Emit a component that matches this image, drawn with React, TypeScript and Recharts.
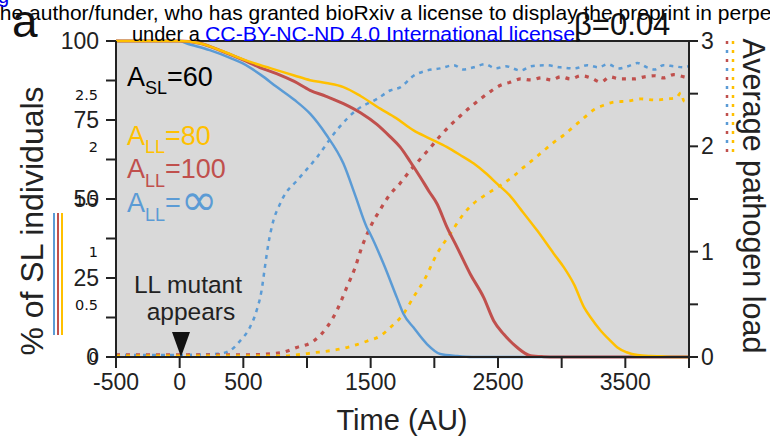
import React from "react";
import { LineChart, Line, XAxis, YAxis, ReferenceArea, ReferenceLine } from "recharts";

// % of SL individuals (left axis), [time, percent]
const slInf = [
  [-500, 100], [0, 100], [52, 99.3], [236, 97.1], [400, 94.6], [496, 92.9], [640, 89.2], [761, 85.5],
  [900, 81.4], [1024, 77], [1150, 70.4], [1286, 61.2], [1380, 51], [1470, 41], [1496, 39],
  [1601, 29.5], [1706, 18.8], [1758, 13.6], [1837, 9.3], [1942, 4.1], [2047, 0.95], [2178, 0.3],
  [2300, 0], [4000, 0],
];
const sl100 = [
  [-500, 100], [0, 100], [157, 99.3], [330, 96.8], [498, 94], [630, 91.6], [761, 89.7], [900, 87.2],
  [1024, 84.4], [1150, 82.5], [1286, 80.2], [1420, 77.3], [1549, 73.6], [1650, 69.8], [1732, 66.4],
  [1811, 61.8], [1890, 56.9], [1960, 52.3], [2021, 48.5], [2100, 41], [2179, 34.7], [2283, 26.2],
  [2388, 18.8], [2467, 11.4], [2546, 7.2], [2651, 3], [2756, 0.4], [2860, 0.1], [2950, 0], [4000, 0],
];
const sl80 = [
  [-500, 100], [0, 100], [157, 99.3], [330, 96.9], [498, 94.2], [630, 92.4], [761, 90.8], [900, 89.1],
  [1024, 87.6], [1150, 86.7], [1286, 85.4], [1420, 82.6], [1575, 78.6], [1700, 75.6], [1837, 71.7],
  [1960, 69.2], [2100, 66.4], [2200, 64], [2310, 61.2], [2400, 58.3], [2494, 54.8], [2590, 51.2],
  [2677, 46.8], [2808, 40], [2938, 32.7], [3020, 28.2], [3097, 23], [3176, 15.7], [3228, 12.5],
  [3307, 8.3], [3386, 5], [3438, 3], [3510, 1.5], [3596, 0.6], [3700, 0.3], [3780, 0.2], [3900, 0],
  [4000, 0],
];

// Average pathogen load (right axis), [time, load]
const loadInf = [
  [-500, 0.02], [0, 0.02], [300, 0.03], [394, 0.06], [472, 0.15], [551, 0.28], [604, 0.44],
  [643, 0.63], [669, 0.85], [696, 1.07], [735, 1.29], [787, 1.45], [815, 1.52], [925, 1.68],
  [1081, 1.9], [1238, 2.16], [1395, 2.35], [1550, 2.45], [1653, 2.53], [1732, 2.56], [1837, 2.67],
  [1943, 2.72], [2047, 2.74], [2152, 2.77], [2230, 2.73], [2310, 2.75], [2400, 2.78], [2480, 2.74],
  [2560, 2.76], [2677, 2.72], [2760, 2.76], [2880, 2.77], [2990, 2.75], [3100, 2.74], [3200, 2.77],
  [3290, 2.75], [3360, 2.78], [3450, 2.74], [3520, 2.76], [3596, 2.79], [3670, 2.75], [3730, 2.73],
  [3800, 2.77], [3880, 2.76], [3960, 2.75], [4000, 2.76],
];
const load100 = [
  [-500, 0.02], [0, 0.02], [525, 0.02], [787, 0.04], [919, 0.09], [1050, 0.15], [1155, 0.28],
  [1234, 0.44], [1312, 0.66], [1378, 0.85], [1430, 1.04], [1496, 1.23], [1575, 1.4], [1650, 1.54],
  [1732, 1.65], [1810, 1.77], [1890, 1.88], [1970, 1.99], [2047, 2.1], [2125, 2.2], [2205, 2.29],
  [2280, 2.37], [2362, 2.45], [2440, 2.52], [2520, 2.58], [2600, 2.61], [2677, 2.64], [2760, 2.63],
  [2840, 2.65], [2920, 2.63], [2992, 2.66], [3070, 2.64], [3150, 2.67], [3230, 2.65], [3307, 2.61],
  [3380, 2.66], [3450, 2.64], [3570, 2.64], [3650, 2.66], [3730, 2.67], [3800, 2.65], [3880, 2.68],
  [3960, 2.66], [4000, 2.65],
];
const load80 = [
  [-500, 0.01], [0, 0.01], [787, 0.01], [1050, 0.04], [1312, 0.09], [1470, 0.15], [1575, 0.2],
  [1654, 0.28], [1758, 0.41], [1837, 0.57], [1916, 0.72], [2021, 0.98], [2126, 1.17], [2231, 1.36],
  [2310, 1.46], [2390, 1.53], [2467, 1.59], [2545, 1.65], [2625, 1.72], [2700, 1.8], [2782, 1.88],
  [2860, 1.96], [2940, 2.04], [3020, 2.11], [3097, 2.19], [3175, 2.27], [3255, 2.35], [3330, 2.39],
  [3412, 2.42], [3520, 2.43], [3622, 2.45], [3730, 2.44], [3832, 2.45], [3900, 2.46], [3937, 2.51],
  [3960, 2.43], [4000, 2.42],
];

const xTicks = [-500, 0, 500, 1000, 1500, 2000, 2500, 3000, 3500, 4000];
const xLabelled = [-500, 0, 500, 1500, 2500, 3500];
const leftTicks = [0, 12.5, 25, 37.5, 50, 62.5, 75, 87.5, 100];
const rightTicks = [0, 0.5, 1, 1.5, 2, 2.5, 3];
const strayTicks = ["2.5", "2", "1.5", "1", "0.5", "0"];

const BLUE = "#5b9bd5";
const RED = "#c0504d";
const YELLOW = "#ffc000";
const INK = "#222";
const FONT = "'Liberation Sans', Arial, sans-serif";

const pts = (arr: number[][]) => arr.map(([t, v]) => ({ t, v }));

const tickStyle = { fill: INK, fontSize: 23, fontFamily: FONT };

function Overlay() {
  return (
    <svg width={770} height={442} style={{ position: "absolute", left: 0, top: 0, pointerEvents: "none" }}>
      <g fontFamily={FONT}>
        <text x={-6} y={20} fontSize={21} fill="#000">
          the author/funder, who has granted bioRxiv a license to display the preprint in perpetuity.
        </text>
        <text x={-2} y={3} fontSize={20} fill="#0000ee">
          g
        </text>
        <text x={12} y={37} fontSize={46} fill="#111">a</text>
        <text x={132} y={41} fontSize={20} fill="#000">under a</text>
        <text x={205} y={41} fontSize={20} fill="#0000ff" textLength={370} lengthAdjust="spacingAndGlyphs">
          CC-BY-NC-ND 4.0 International license
        </text>
        <text x={576} y={41} fontSize={20} fill="#000">.</text>
        <text x={574} y={35} fontSize={31} fill="#111">β=0.04</text>

        <text x={43} y={221} fontSize={32} fill={INK} textAnchor="middle" transform="rotate(-90 43 221)">
          % of SL individuals
        </text>
        <text x={743} y={196} fontSize={30.5} fill={INK} textAnchor="middle" transform="rotate(90 743 196)">
          Average pathogen load
        </text>
        <text x={402} y={430} fontSize={29} fill={INK} textAnchor="middle">Time (AU)</text>

        <text x={127} y={86} fontSize={27} fill="#000">
          A<tspan fontSize={18} dy={8}>SL</tspan>
          <tspan fontSize={27} dy={-8}>=60</tspan>
        </text>
        <text x={127} y={145} fontSize={27} fill={YELLOW}>
          A<tspan fontSize={18} dy={8}>LL</tspan>
          <tspan fontSize={27} dy={-8}>=80</tspan>
        </text>
        <text x={127} y={178} fontSize={27} fill={RED}>
          A<tspan fontSize={18} dy={9}>LL</tspan>
          <tspan fontSize={27} dy={-9}>=100</tspan>
        </text>
        <text x={127} y={212} fontSize={27} fill={BLUE}>
          A<tspan fontSize={18} dy={9}>LL</tspan>
          <tspan fontSize={27} dy={-9}>=</tspan>
          <tspan fontSize={44} dy={3} fontFamily="'DejaVu Sans', sans-serif">∞</tspan>
        </text>

        <text x={188} y={293} fontSize={24.5} fill={INK} textAnchor="middle">LL mutant</text>
        <text x={191} y={320} fontSize={24.5} fill={INK} textAnchor="middle">appears</text>
        <polygon points="172,332 190,332 181,357" fill="#111" />
      </g>

      {strayTicks.map((s, i) => (
        <text key={s} x={98} y={99.5 + i * 52.5} fontSize={14.5} fontFamily="'DejaVu Sans', sans-serif"
          textAnchor="end" fill="#111">
          {s}
        </text>
      ))}

      <line x1={54} y1={213} x2={54} y2={335} stroke={BLUE} strokeWidth={2} />
      <line x1={58} y1={213} x2={58} y2={335} stroke={RED} strokeWidth={2} />
      <line x1={62} y1={213} x2={62} y2={335} stroke={YELLOW} strokeWidth={2} />

      <line x1={727} y1={41} x2={727} y2={158} stroke={RED} strokeWidth={2.5} strokeDasharray="3 15" />
      <line x1={727} y1={41} x2={727} y2={158} stroke={BLUE} strokeWidth={2.5} strokeDasharray="3 15" strokeDashoffset={-9} />
      <line x1={733} y1={41} x2={733} y2={158} stroke={YELLOW} strokeWidth={2.5} strokeDasharray="3 6" />
    </svg>
  );
}

export default function App() {
  return (
    <div style={{ position: "absolute", left: 0, top: 0, width: 770, height: 442, background: "#fff" }}>
      <LineChart width={770} height={442} margin={{ top: 41, right: 21, left: 56, bottom: 35 }}>
        <XAxis
          type="number"
          dataKey="t"
          domain={[-500, 4000]}
          ticks={xTicks}
          allowDataOverflow
          tickFormatter={(v: number) => (xLabelled.includes(v) ? String(v) : "")}
          tick={tickStyle}
          tickSize={11}
          tickMargin={6}
          height={50}
          stroke={INK}
          strokeWidth={2}
          tickLine={{ stroke: INK, strokeWidth: 2 }}
        />
        <YAxis
          yAxisId="left"
          domain={[0, 100]}
          ticks={leftTicks}
          tickFormatter={(v: number) => (v % 25 === 0 ? String(v) : "")}
          tick={tickStyle}
          tickSize={10}
          tickMargin={7}
          width={60}
          stroke={INK}
          strokeWidth={2}
          tickLine={{ stroke: INK, strokeWidth: 2 }}
        />
        <YAxis
          yAxisId="right"
          orientation="right"
          domain={[0, 3]}
          ticks={rightTicks}
          tickFormatter={(v: number) => (Number.isInteger(v) ? String(v) : "")}
          tick={tickStyle}
          tickSize={9}
          tickMargin={3}
          width={60}
          stroke={INK}
          strokeWidth={2}
          tickLine={{ stroke: INK, strokeWidth: 2 }}
        />
        <ReferenceArea yAxisId="left" x1={-500} x2={4000} y1={0} y2={100} fill="#d9d9d9" fillOpacity={1} stroke="none" />
        <ReferenceLine yAxisId="left" y={100} stroke={INK} strokeWidth={2} />

        <Line yAxisId="right" type="monotone" data={pts(loadInf)} dataKey="v" stroke={BLUE} strokeWidth={2.5} strokeDasharray="4 5" dot={false} isAnimationActive={false} />
        <Line yAxisId="right" type="monotone" data={pts(load100)} dataKey="v" stroke={RED} strokeWidth={3.2} strokeDasharray="4 6" dot={false} isAnimationActive={false} />
        <Line yAxisId="right" type="monotone" data={pts(load80)} dataKey="v" stroke={YELLOW} strokeWidth={2.8} strokeDasharray="4 6" dot={false} isAnimationActive={false} />

        <Line yAxisId="left" type="monotone" data={pts(slInf)} dataKey="v" stroke={BLUE} strokeWidth={2.5} dot={false} isAnimationActive={false} />
        <Line yAxisId="left" type="monotone" data={pts(sl100)} dataKey="v" stroke={RED} strokeWidth={3} dot={false} isAnimationActive={false} />
        <Line yAxisId="left" type="monotone" data={pts(sl80)} dataKey="v" stroke={YELLOW} strokeWidth={2.5} dot={false} isAnimationActive={false} />
      </LineChart>
      <Overlay />
    </div>
  );
}
